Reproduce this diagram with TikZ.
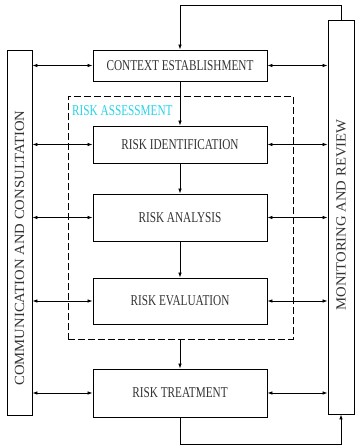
\documentclass[tikz,border=0pt]{standalone}
\usepackage{fontspec}
\setmainfont{Liberation Serif}[FakeStretch=0.75]
\newfontfamily\sidefont{Liberation Serif}[FakeStretch=1.05]
\usetikzlibrary{arrows.meta}
\definecolor{assesscyan}{RGB}{40,210,230}
\tikzset{
  stage/.style={draw, line width=0.9pt, minimum width=174pt, text=black!80,
    font=\fontsize{15}{17}\selectfont, inner sep=0pt},
  bar/.style={draw, line width=0.9pt, inner sep=0pt},
  sidetext/.style={rotate=90, text=black!80, font=\sidefont\fontsize{14}{16}\selectfont},
  link/.style={line width=0.8pt, -{Latex[length=5pt,width=3.6pt]}},
  twoway/.style={line width=0.8pt, {Latex[length=5pt,width=3.6pt]}-{Latex[length=5pt,width=3.6pt]}}
}
\begin{document}
\begin{tikzpicture}[x=1pt,y=-1pt]
\useasboundingbox (0,0) rectangle (355,446);

% The two side bars
\node[bar, minimum width=25pt, minimum height=365pt] (Comm) at (19.5,232.5) {};
\node[sidetext] (CommText) at (19.5,248) {COMMUNICATION AND CONSULTATION};
\node[bar, minimum width=26pt, minimum height=394pt] (Monitor) at (341,217) {};
\node[sidetext] (MonitorText) at (341,215) {MONITORING AND REVIEW};

% Dashed frame of the assessment
\node[draw, line width=0.8pt, dash pattern=on 7pt off 3pt, minimum width=225pt,
  minimum height=243pt, inner sep=0pt] (Assess) at (180.5,217.5) {};
\node[anchor=west, text=assesscyan, font=\fontsize{15}{17}\selectfont, inner sep=0pt]
  (AssessText) at (72,111) {RISK ASSESSMENT};

% The stages of the process
\node[stage, minimum height=31pt] (Context) at (180,65.5) {CONTEXT ESTABLISHMENT};
\node[stage, minimum height=37pt] (Ident) at (180,144.5) {RISK IDENTIFICATION};
\node[stage, minimum height=47pt] (Analysis) at (180,217.5) {RISK ANALYSIS};
\node[stage, minimum height=46pt] (Eval) at (180,301) {RISK EVALUATION};
\node[stage, minimum height=48pt] (Treat) at (180,393) {RISK TREATMENT};

% Flow down the middle
\draw[link] (Context) -- (Ident);
\draw[link] (Ident) -- (Analysis);
\draw[link] (Analysis) -- (Eval);
\draw[link] (Assess.south -| Treat) -- (Treat);

% Loops from and back to monitoring
\coordinate (TopTurn) at (341,5);
\coordinate (LowTurn) at (341,444);
\draw[link] (Monitor.north) -- (TopTurn) -| (Context.north);
\draw[link] (Treat.south) |- (LowTurn) -- (Monitor.south);

% Exchanges with the side bars
\draw[twoway] (Comm.east |- Context) -- (Context.west);
\draw[twoway] (Context.east) -- (Monitor.west |- Context);
\draw[twoway] (Comm.east |- Ident) -- (Ident.west);
\draw[twoway] (Ident.east) -- (Monitor.west |- Ident);
\draw[twoway] (Comm.east |- Analysis) -- (Analysis.west);
\draw[twoway] (Analysis.east) -- (Monitor.west |- Analysis);
\draw[twoway] (Comm.east |- Eval) -- (Eval.west);
\draw[twoway] (Eval.east) -- (Monitor.west |- Eval);
\draw[twoway] (Comm.east |- Treat) -- (Treat.west);
\draw[twoway] (Treat.east) -- (Monitor.west |- Treat);

\end{tikzpicture}
\end{document}
